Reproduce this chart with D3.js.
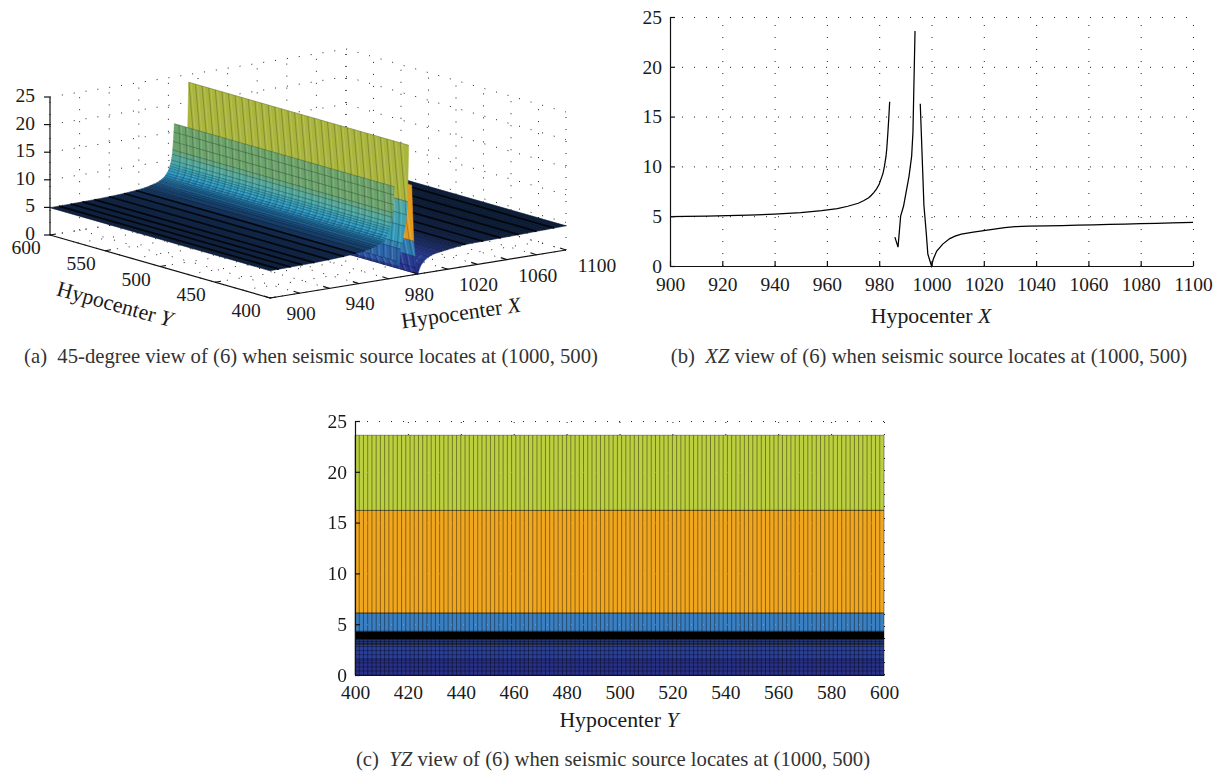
<!DOCTYPE html>
<html>
<head>
<meta charset="utf-8">
<script src="https://cdn.jsdelivr.net/npm/d3@7"></script>
<style>
  body { margin: 0; background: #fff; }
  text { font-family: "Liberation Serif", serif; fill: #1a1a1a; white-space: pre; }
  .axis text { font-size: 19.5px; }
  .axis path, .axis line { stroke: #111; stroke-width: 1.2; }
  .grid line { stroke: #222; stroke-width: 1; stroke-dasharray: 1 11; }
  .grid path { display: none; }
  .tick3d { font-size: 19.5px; }
  .title { font-size: 21.8px; }
  .caption { font-size: 20.7px; fill: #333; }
</style>
</head>
<body>
<script>
// z along hypocenter X at Y = 500; three separate branches
const leftX = [900, 906, 914, 922, 930, 940, 950, 958, 964, 968, 970, 972, 974, 975, 976, 977, 978, 979, 980, 980.5, 981, 981.5, 982, 982.6, 982.9, 983.3, 983.7, 984];
const leftZ = [4.95, 4.97, 5.0, 5.05, 5.1, 5.2, 5.35, 5.55, 5.75, 6.0, 6.15, 6.3, 6.55, 6.7, 6.85, 7.1, 7.4, 7.75, 8.2, 8.6, 8.95, 9.35, 10, 11, 11.8, 13.3, 15, 16.5];
const midX = [986, 987.2, 988.2, 989.3, 991.4, 992.4, 992.9, 993.7];
const midZ = [2.9, 1.9, 5.0, 6.0, 9.0, 11.0, 13.4, 23.6];
const rightX = [995.7, 997.1, 998, 998.6, 1000, 1000.7, 1002, 1004.3, 1007, 1009, 1011.4, 1016, 1020, 1024, 1028, 1032, 1037, 1044, 1050, 1056, 1062, 1068, 1074, 1080, 1086, 1092, 1100];
const rightZ = [16.3, 6.1, 3.3, 1.2, 0, 0.7, 1.5, 2.2, 2.75, 3.0, 3.2, 3.4, 3.55, 3.7, 3.85, 3.95, 4.0, 4.03, 4.06, 4.1, 4.13, 4.17, 4.2, 4.25, 4.29, 4.33, 4.38];
const branches = [[leftX, leftZ], [midX, midZ], [rightX, rightZ]];

// x positions where the 3D mesh reads as dark stripes
const stripeX = [906, 914, 922, 930, 940, 950, 958, 1032, 1044, 1056, 1068, 1080, 1092];

const xTicks = [900, 920, 940, 960, 980, 1000, 1020, 1040, 1060, 1080, 1100];
const yTicks = [400, 420, 440, 460, 480, 500, 520, 540, 560, 580, 600];
const zTicks = [0, 5, 10, 15, 20, 25];
const xTicks3d = [900, 940, 980, 1020, 1060, 1100];
const yTicks3d = [400, 450, 500, 550, 600];

// YZ view bands, lower and upper z
const bandLow = [0, 1.5, 3.0, 3.5, 4.3, 6.1, 16.2];
const bandHigh = [1.5, 3.0, 3.5, 4.3, 6.1, 16.2, 23.6];
const bandColors = ["#28308a", "#2a3f9c", "#253772", "#000000", "#3a7fc1", "#f0a61e", "#bcd03f"];
const bandLinesZ = [0.4, 0.8, 1.2, 1.6, 2.0, 2.4, 2.8, 3.1, 3.3];

const svg = d3.select("body").append("svg").attr("width", 1225).attr("height", 774);

function addText(parent, x, y, parts, cls, anchor, rotate) {
  const t = parent.append("text").attr("class", cls)
    .attr("x", x).attr("y", y).attr("text-anchor", anchor || "middle");
  if (rotate) t.attr("transform", `rotate(${rotate},${x},${y})`);
  parts.forEach(p => {
    t.append("tspan").style("font-style", p[1] ? "italic" : "normal").text(p[0]);
  });
  return t;
}

// ---------- panel (a), 45 degree view ----------
const sx = d3.scaleLinear().domain([900, 1100]).range([0, 1]);
const sy = d3.scaleLinear().domain([400, 600]).range([0, 1]);
const sz = d3.scaleLinear().domain([0, 25]).range([0, 138]);

function project(x, y, z) {
  return [
    270 + 296 * sx(x) - 220 * sy(y),
    298 - 48 * sx(x) - 63 * sy(y) - sz(z)
  ];
}

const surfaceColor = d3.scaleLinear()
  .domain([0, 3, 3.7, 4.2, 4.8, 5.4, 6, 6.7, 8, 9.5, 11, 12, 16, 17, 24])
  .range(["#27318c", "#2a3f98", "#1b2d60", "#10223f", "#112545", "#142c52", "#1c4a7a", "#2475a8", "#2e9cc4", "#47a7ab", "#5aa58e", "#6ca36b", "#6ca36b", "#a9b53c", "#a9b53c"]);
const wallColor = d3.scaleThreshold().domain([8]).range(["#2f7ab0", "#e39a1c"]);
const midColor = d3.scaleLinear().domain([2, 5, 8, 12, 17]).range(["#2a4fa0", "#2f7ab0", "#35a0b8", "#4aa6a8", "#a9b53c"]).clamp(true);

const a = svg.append("g");

function gridLine3d(p0, p1) {
  a.append("line").attr("x1", p0[0]).attr("y1", p0[1]).attr("x2", p1[0]).attr("y2", p1[1])
    .attr("stroke", "#222").attr("stroke-dasharray", "1 11");
}
xTicks.forEach(x => {
  gridLine3d(project(x, 400, 0), project(x, 600, 0));
  gridLine3d(project(x, 600, 0), project(x, 600, 25));
});
yTicks3d.concat([425, 475, 525, 575]).forEach(y => {
  gridLine3d(project(900, y, 0), project(1100, y, 0));
  gridLine3d(project(1100, y, 0), project(1100, y, 25));
});
zTicks.forEach(z => {
  gridLine3d(project(900, 600, z), project(1100, 600, z));
  gridLine3d(project(1100, 600, z), project(1100, 400, z));
});

// strips far to near so nearer walls cover the ones behind them
const meshY = d3.range(400, 600.01, 2);
const strips = [];
branches.forEach(([bx, bz]) => {
  d3.pairs(d3.range(bx.length)).forEach(([i, j]) => {
    strips.push({ x0: bx[i], z0: bz[i], x1: bx[j], z1: bz[j] });
  });
});
strips.sort((p, q) => d3.descending(p.x0, q.x0));

// mesh lines lean with height on the walls, like the moire in the picture
const leanAt = z => 0.55 * (24 - z);

strips.forEach(s => {
  const m = (s.z0 + s.z1) / 2;
  const isWall = s.x0 >= 995 && s.x1 <= 998.1;
  const isMid = s.x0 >= 986 && s.x1 <= 993.7;
  const col = isWall ? wallColor(m) : isMid ? midColor(m) : surfaceColor(m);
  const poly = [project(s.x0, 400, s.z0), project(s.x1, 400, s.z1), project(s.x1, 600, s.z1), project(s.x0, 600, s.z0)];
  a.append("path").attr("d", "M" + poly.join("L") + "Z")
    .attr("fill", col).attr("stroke", col).attr("stroke-width", 0.5);

  const tall = Math.abs(s.z1 - s.z0) > 0.3;
  let dark = "", light = "";
  meshY.forEach((y, i) => {
    const y0 = tall ? y - leanAt(s.z0) : y, y1 = tall ? y - leanAt(s.z1) : y;
    if (Math.min(y0, y1) < 400) return;
    const seg = "M" + project(s.x0, y0, s.z0) + "L" + project(s.x1, y1, s.z1);
    if (tall) {
      if (i % 3 === 0) light += seg;
      if (i % 3 === 1) dark += seg;
    } else {
      if (i % 2) dark += seg; else light += seg;
    }
  });
  a.append("path").attr("d", dark).attr("fill", "none")
    .attr("stroke", "#000").attr("stroke-opacity", tall ? 0.3 : 0.32).attr("stroke-width", tall ? 0.7 : 0.5);
  a.append("path").attr("d", light).attr("fill", "none")
    .attr("stroke", tall ? "#fff" : "#000").attr("stroke-opacity", tall ? 0.2 : 0.18).attr("stroke-width", tall ? 0.8 : 0.6);

  // long edges of the strip
  const e0 = project(s.x0, 400, s.z0), e1 = project(s.x0, 600, s.z0);
  a.append("line").attr("x1", e0[0]).attr("y1", e0[1]).attr("x2", e1[0]).attr("y2", e1[1])
    .attr("stroke", "#000").attr("stroke-opacity", 0.4).attr("stroke-width", 0.5);
  const e2 = project(s.x1, 400, s.z1), e3 = project(s.x1, 600, s.z1);
  const striped = stripeX.includes(s.x1);
  a.append("line").attr("x1", e2[0]).attr("y1", e2[1]).attr("x2", e3[0]).attr("y2", e3[1])
    .attr("stroke", "#000").attr("stroke-opacity", striped ? 0.85 : 0.4).attr("stroke-width", striped ? 1.7 : 0.5);
});

// 3D axes
const corner = project(900, 400, 0), leftCorner = project(900, 600, 0), rightCorner = project(1100, 400, 0), zTop = project(900, 600, 25);
[[leftCorner, corner], [corner, rightCorner], [leftCorner, zTop]].forEach(([p, q]) => {
  a.append("line").attr("x1", p[0]).attr("y1", p[1]).attr("x2", q[0]).attr("y2", q[1])
    .attr("stroke", "#111").attr("stroke-width", 1.2);
});
function tick3d(p, dx, dy) {
  a.append("line").attr("x1", p[0]).attr("y1", p[1]).attr("x2", p[0] + dx).attr("y2", p[1] + dy)
    .attr("stroke", "#111").attr("stroke-width", 1.2);
}
xTicks.forEach(x => tick3d(project(x, 400, 0), -6, -2));
yTicks3d.forEach(y => tick3d(project(900, y, 0), 6, -1));
zTicks.forEach(z => tick3d(project(900, 600, z), -6, 0));

xTicks3d.forEach(x => {
  const p = project(x, 400, 0);
  addText(a, p[0] + 31, p[1] + 22, [[String(x)]], "tick3d");
});
yTicks3d.forEach(y => {
  const p = project(900, y, 0);
  addText(a, p[0] - 24, p[1] + 19, [[String(y)]], "tick3d");
});
zTicks.forEach(z => {
  const p = project(900, 600, z);
  addText(a, p[0] - 15, p[1] + 5, [[String(z)]], "tick3d", "end");
});
addText(a, 113, 311, [["Hypocenter "], ["Y", true]], "title", "middle", 15.5);
addText(a, 462, 320, [["Hypocenter "], ["X", true]], "title", "middle", -8);
addText(a, 311, 363, [["(a)  45-degree view of (6) when seismic source locates at (1000, 500)"]], "caption");

// ---------- panel (b), XZ view ----------
const b = svg.append("g");
const bx = d3.scaleLinear().domain([900, 1100]).range([670, 1193]);
const bz = d3.scaleLinear().domain([0, 25]).range([266, 17]);

b.append("g").attr("class", "grid").attr("transform", "translate(0,266)")
  .call(d3.axisBottom(bx).tickValues(xTicks).tickSize(-249).tickFormat(""));
b.append("g").attr("class", "grid").attr("transform", "translate(670,0)")
  .call(d3.axisLeft(bz).tickValues(zTicks).tickSize(-523).tickFormat(""));

const bLine = d3.line().x(d => bx(d[0])).y(d => bz(d[1]));
branches.forEach(([xs, zs]) => {
  b.append("path").attr("d", bLine(d3.zip(xs, zs)))
    .attr("fill", "none").attr("stroke", "#000").attr("stroke-width", 1.25);
});

b.append("g").attr("class", "axis").attr("transform", "translate(0,266)")
  .call(d3.axisBottom(bx).tickValues(xTicks).tickSize(-5).tickPadding(11).tickSizeOuter(0).tickFormat(d3.format("d")));
b.append("g").attr("class", "axis").attr("transform", "translate(670,0)")
  .call(d3.axisLeft(bz).tickValues(zTicks).tickSize(-5).tickPadding(8).tickSizeOuter(0));
addText(b, 931, 323, [["Hypocenter "], ["X", true]], "title");
addText(b, 929, 363, [["(b)  "], ["XZ", true], [" view of (6) when seismic source locates at (1000, 500)"]], "caption");

// ---------- panel (c), YZ view ----------
const c = svg.append("g");
const cy = d3.scaleLinear().domain([400, 600]).range([355, 884]);
const cz = d3.scaleLinear().domain([0, 25]).range([675, 421]);

c.append("g").attr("class", "grid").attr("transform", "translate(0,675)")
  .call(d3.axisBottom(cy).tickValues(yTicks).tickSize(-254).tickFormat(""));
c.append("g").attr("class", "grid").attr("transform", "translate(355,0)")
  .call(d3.axisLeft(cz).tickValues(zTicks).tickSize(-529).tickFormat(""));

c.selectAll("rect.band").data(d3.range(bandLow.length)).join("rect").attr("class", "band")
  .attr("x", cy(400)).attr("width", cy(600) - cy(400))
  .attr("y", i => cz(bandHigh[i])).attr("height", i => cz(bandLow[i]) - cz(bandHigh[i]))
  .attr("fill", i => bandColors[i]);

// orange top edge steps up slightly past Y = 477
c.append("rect").attr("x", cy(477)).attr("width", cy(600) - cy(477))
  .attr("y", cz(16.32)).attr("height", cz(16.2) - cz(16.32)).attr("fill", "#f0a61e");

c.selectAll("line.h").data(bandLow.concat(bandHigh).concat(bandLinesZ)).join("line").attr("class", "h")
  .attr("x1", cy(400)).attr("x2", cy(600)).attr("y1", d => cz(d)).attr("y2", d => cz(d))
  .attr("stroke", "#000").attr("stroke-opacity", 0.45).attr("stroke-width", 0.8);

c.selectAll("line.v").data(d3.range(400, 600.01, 1.6)).join("line").attr("class", "v")
  .attr("x1", d => cy(d)).attr("x2", d => cy(d)).attr("y1", cz(0)).attr("y2", cz(23.6))
  .attr("stroke", "#000").attr("stroke-opacity", 0.45).attr("stroke-width", 0.9);

// faint grid showing through the surface
c.append("g").attr("class", "grid").attr("opacity", 0.35).attr("transform", "translate(355,0)")
  .call(d3.axisLeft(cz).tickValues([5, 10, 15, 20]).tickSize(-529).tickFormat(""))
  .selectAll("line").style("stroke", "#ddd");

c.append("g").attr("class", "axis").attr("transform", "translate(0,675)")
  .call(d3.axisBottom(cy).tickValues(yTicks).tickSize(0).tickPadding(10).tickSizeOuter(0).tickFormat(d3.format("d")));
c.append("g").attr("class", "axis").attr("transform", "translate(355,0)")
  .call(d3.axisLeft(cz).tickValues(zTicks).tickSize(-5).tickPadding(8).tickSizeOuter(0));
addText(c, 619, 727, [["Hypocenter "], ["Y", true]], "title");
addText(c, 613, 766, [["(c)  "], ["YZ", true], [" view of (6) when seismic source locates at (1000, 500)"]], "caption");
</script>
</body>
</html>
